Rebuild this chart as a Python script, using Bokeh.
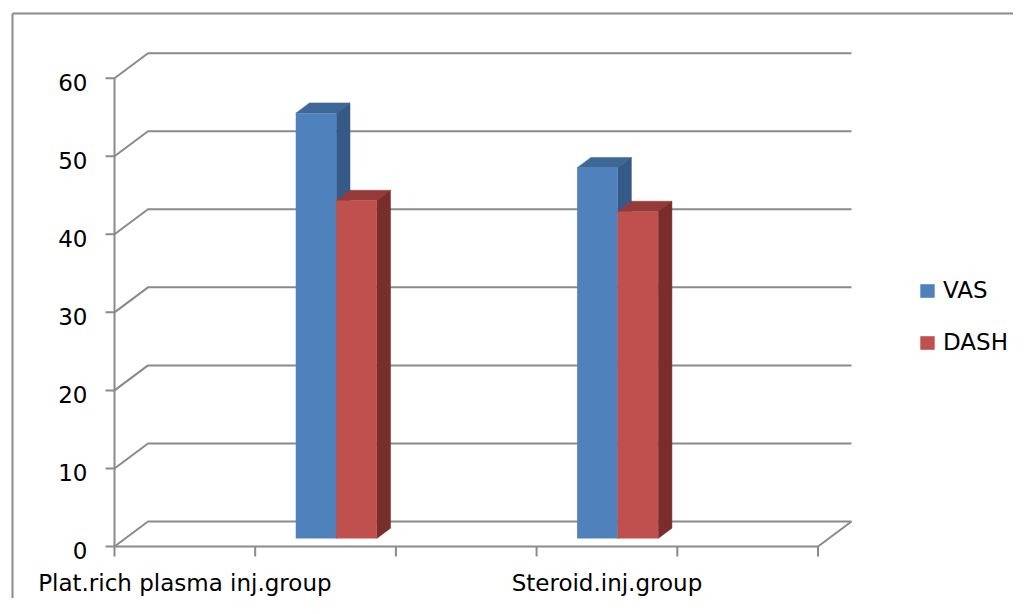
from bokeh.plotting import figure
from bokeh.models import Legend, LegendItem, Range1d
from bokeh.embed import file_html
from bokeh.resources import INLINE
from bokeh.core.properties import value

# ---------------- data ----------------
categories = ["Plat.rich plasma inj.group", "Steroid.inj.group"]
series_names = ["VAS", "DASH"]
vas = [54.5, 47.5]
dash = [43.3, 41.9]
y_ticks = [0, 10, 20, 30, 40, 50, 60]
y_tick_labels = ["0", "10", "20", "30", "40", "50", "60"]

# ---------------- layout ----------------
N_SLOTS = 5            # category slots along the floor
GROUP_SLOTS = [1, 3]   # slot in which each group's bars stand
LABEL_SLOTS = [0, 3]   # slot under which each category label is written
W, H = 1013, 598
PX_SLOT = 140.7        # pixels per slot
PX_UNIT = 7.805        # pixels per value unit
ORIG_X, ORIG_Y = 114, 546   # canvas pixel of front axis origin


def dxp(px):
    return px / PX_SLOT


def dyp(px):
    return px / PX_UNIT


DX, DY = dxp(33.5), dyp(25)       # full depth of the 3-D box
D0, D1 = 0.32, 0.73               # bar depth (front / back fraction)
BW = 0.288                        # bar width in slots

FONT = "DejaVu Sans"
FS = "23px"
GRID = "#8a8a8a"
BLUE, BLUE_TOP, BLUE_SIDE = "#4f81bd", "#3d6898", "#365a88"
RED, RED_TOP, RED_SIDE = "#c0504d", "#943b39", "#7a2e2c"

p = figure(width=W, height=H, output_backend="svg", toolbar_location=None,
           x_range=Range1d(-ORIG_X / PX_SLOT, (W - ORIG_X) / PX_SLOT),
           y_range=Range1d(-(H - ORIG_Y) / PX_UNIT, ORIG_Y / PX_UNIT),
           min_border=0, min_border_left=0, min_border_right=0,
           min_border_top=0, min_border_bottom=0)
p.axis.visible = False
p.grid.visible = False
p.outline_line_color = None
p.background_fill_color = "white"
p.border_fill_color = "white"

# outer chart border (left and top edges visible)
p.segment(x0=[dxp(12 - ORIG_X)] * 2, y0=[dyp(ORIG_Y - 13), dyp(ORIG_Y - 13)],
          x1=[dxp(12 - ORIG_X), dxp(W + 20 - ORIG_X)],
          y1=[dyp(ORIG_Y - H - 20), dyp(ORIG_Y - 13)],
          line_color=GRID, line_width=2)

# back wall gridlines + diagonals
for t in y_ticks:
    p.line([0, DX, N_SLOTS + DX], [t, t + DY, t + DY], line_color=GRID, line_width=2)
# floor front edge and right diagonal
p.line([0, N_SLOTS, N_SLOTS + DX], [0, 0, DY], line_color=GRID, line_width=2)
# front value axis
p.line([0, 0], [0, y_ticks[-1]], line_color=GRID, line_width=2)
# value ticks
p.segment(x0=[-dxp(9)] * len(y_ticks), y0=y_ticks, x1=[0] * len(y_ticks), y1=y_ticks,
          line_color=GRID, line_width=2)
# category ticks
slots = list(range(N_SLOTS + 1))
p.segment(x0=slots, y0=[0] * len(slots), x1=slots, y1=[-dyp(10)] * len(slots),
          line_color=GRID, line_width=2)

# tick labels
p.text(x=[-dxp(27)] * len(y_ticks), y=y_ticks, text=y_tick_labels,
       text_align="right", text_baseline="middle", y_offset=4,
       text_font=value(FONT), text_font_size=FS, text_color="black")
p.text(x=[s + 0.5 for s in LABEL_SLOTS], y=[-dyp(36)] * len(categories), text=categories,
       text_align="center", text_baseline="middle",
       text_font=value(FONT), text_font_size=FS, text_color="black")


def bar(left, v, top, side):
    xl, xr = left + D0 * DX, left + BW + D0 * DX
    yb, yt = D0 * DY, v + D0 * DY
    ex, ey = (D1 - D0) * DX, (D1 - D0) * DY
    p.patch([xl, xr, xr + ex, xl + ex], [yt, yt, yt + ey, yt + ey],
            fill_color=top, line_color=top, line_width=0.5)
    p.patch([xr, xr + ex, xr + ex, xr], [yb, yb + ey, yt + ey, yt],
            fill_color=side, line_color=side, line_width=0.5)
    return xl, xr, yb, yt


blue_r = red_r = None
for g, slot in enumerate(GROUP_SLOTS):
    c = slot + 0.5
    xl, xr, yb, yt = bar(c - BW, vas[g], BLUE_TOP, BLUE_SIDE)
    r = p.quad(left=[xl], right=[xr], bottom=[yb], top=[yt], fill_color=BLUE, line_color=None)
    if blue_r is None:
        blue_r = r
    xl, xr, yb, yt = bar(c, dash[g], RED_TOP, RED_SIDE)
    r = p.quad(left=[xl], right=[xr], bottom=[yb], top=[yt], fill_color=RED, line_color=None)
    if red_r is None:
        red_r = r

legend = Legend(items=[LegendItem(label=series_names[0], renderers=[blue_r]),
                       LegendItem(label=series_names[1], renderers=[red_r])],
                location=(918, 243), orientation="vertical",
                glyph_width=18, glyph_height=17, label_standoff=7, spacing=26,
                padding=0, margin=0, border_line_color=None, background_fill_alpha=0,
                label_text_font=FONT, label_text_font_size=FS, label_text_color="black")
p.add_layout(legend)

open("out.html", "w").write(file_html(p, INLINE))
